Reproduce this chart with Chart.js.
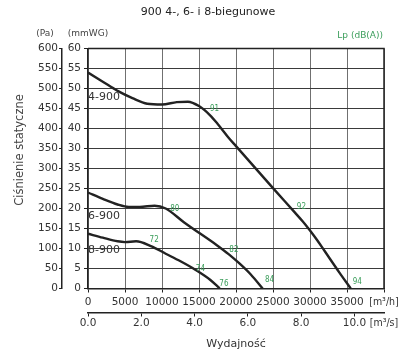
<!DOCTYPE html>
<html><head><meta charset="utf-8">
<script src="https://cdn.jsdelivr.net/npm/chart.js@4"></script>
<style>html,body{margin:0;padding:0;background:#fff}</style>
</head><body>
<canvas id="c" width="408" height="357"></canvas>
<script>
// ---- data ----
const flow4 = [0,2000,4000,6000,8000,10000,12000,13500,15000,16500,17500,19000,20000,25000,28000,29000,30000,31000,32000,34000,35500];
const pres4 = [540,517,494,476,462,460,466,467,456,433,412,377,356,251,189,168,145,120,93,39,0];
const flow6 = [0,2000,4000,5500,7000,9000,10500,13000,17500,19000,20500,22000,23600];
const pres6 = [240,224,210,204,204,207,200,165,107,86,62,35,0];
const flow8 = [0,2000,4000,5000,6500,8500,10500,12500,14500,16500,17800];
const pres8 = [137,127,118,116,118,106,87,68,47,22,0];

const paTicks = [0,50,100,150,200,250,300,350,400,450,500,550,600];
const mmwgLabels = ['0','5','10','15','20','25','35','30','40','45','50','55','60'];
const flowTicksH = [0,5000,10000,15000,20000,25000,30000,35000];
const flowTicksS = [0,2,4,6,8,10];

const curveNames = ['4-900','6-900','8-900'];
const curveNameFlow = [2150,2150,2150];
const curveNamePres = [478,182,97];

const dbText = ['91','92','94','80','82','84','72','74','76'];
const dbFlow = [17100,28840,36400,11720,19720,24530,8940,15190,18370];
const dbPres = [448,205,17,200,97,21,122,49,11];

const FONT = 'DejaVu Sans';
Chart.defaults.font.family = FONT;
Chart.defaults.color = '#333';

const pts = (xs, ys) => xs.map((x, i) => ({x, y: ys[i]}));
const lineDs = (xs, ys) => ({
  data: pts(xs, ys), borderColor: '#222', borderWidth: 2.4, pointRadius: 0,
  cubicInterpolationMode: 'monotone', fill: false, xAxisID: 'x', yAxisID: 'y'
});

const textPlugin = {
  id: 'texts',
  afterDraw(chart) {
    const c = chart.ctx, xs = chart.scales.x, ys = chart.scales.y;
    c.save();
    c.textBaseline = 'middle';
    c.fillStyle = '#222'; c.textAlign = 'center';
    c.font = '11px "' + FONT + '"';
    c.fillText('900 4-, 6- i 8-biegunowe', 208, 12);
    c.fillStyle = '#444'; c.font = '9px "' + FONT + '"';
    c.fillText('(Pa)', 45, 34);
    c.fillText('(mmWG)', 88, 34);
    c.fillStyle = '#3a9d5a'; c.textAlign = 'right';
    c.fillText('Lp (dB(A))', 383, 35.5);
    c.save();
    c.translate(20, 150); c.rotate(-Math.PI / 2);
    c.fillStyle = '#444'; c.textAlign = 'center';
    c.font = '11.5px "' + FONT + '"';
    c.fillText('Ciśnienie statyczne', 0, 0);
    c.restore();
    c.fillStyle = '#333'; c.textAlign = 'center'; c.font = '11px "' + FONT + '"';
    curveNames.forEach((t, i) => c.fillText(t, xs.getPixelForValue(curveNameFlow[i]), ys.getPixelForValue(curveNamePres[i])));
    c.fillStyle = '#3a9d5a'; c.font = '8px "DejaVu Sans Condensed"';
    dbText.forEach((t, i) => c.fillText(t, xs.getPixelForValue(dbFlow[i]), ys.getPixelForValue(dbPres[i])));
    c.restore();
  }
};

const framePlugin = {
  id: 'frame',
  afterDatasetsDraw(chart) {
    const a = chart.chartArea, c = chart.ctx;
    c.save(); c.strokeStyle = '#222'; c.lineWidth = 1.5;
    c.beginPath(); c.moveTo(a.left, a.top); c.lineTo(a.right, a.top); c.lineTo(a.right, a.bottom); c.stroke();
    c.restore();
  }
};

const tickFont = ctx => (ctx.tick && typeof ctx.tick.label === 'string' && ctx.tick.label.startsWith('['))
  ? { family: 'DejaVu Sans Condensed', size: 10.5 } : { family: FONT, size: 10.5 };

new Chart(document.getElementById('c'), {
  type: 'line',
  data: { datasets: [lineDs(flow4, pres4), lineDs(flow6, pres6), lineDs(flow8, pres8)] },
  options: {
    responsive: false, animation: false,
    layout: { padding: { left: 30, right: 24, top: 48.5, bottom: 0 } },
    plugins: { legend: { display: false }, tooltip: { enabled: false } },
    scales: {
      x: {
        type: 'linear', axis: 'x', position: 'bottom', weight: 0, min: 0, max: 40000,
        afterBuildTicks: s => { s.ticks = flowTicksH.concat([40000]).map(v => ({value: v})); },
        ticks: { autoSkip: false, maxRotation: 0, padding: 3, font: tickFont, color: '#333',
          callback: v => v === 40000 ? '[m³/h]' : String(v) },
        grid: { color: '#707070', lineWidth: 1, tickLength: 4, tickColor: '#222' },
        border: { color: '#222', width: 1.5 },
        afterFit: s => { s.height = 24; }
      },
      x2: {
        type: 'linear', axis: 'x', position: 'bottom', weight: 1, min: 0, max: 40000 / 3600,
        afterBuildTicks: s => { s.ticks = flowTicksS.concat([40000 / 3600]).map(v => ({value: v})); },
        ticks: { autoSkip: false, maxRotation: 0, padding: 0, font: tickFont, color: '#333',
          callback: v => v > 10.5 ? '[m³/s]' : v.toFixed(1) },
        grid: { drawOnChartArea: false, tickLength: 4,
          tickColor: ctx => (ctx.tick && ctx.tick.value > 10.5) ? 'rgba(0,0,0,0)' : '#222' },
        border: { color: '#222', width: 1.5 },
        title: { display: true, text: 'Wydajność', color: '#333', font: { size: 11 }, padding: { top: 0, bottom: 6 } },
        afterFit: s => { s.height = 44.5; }
      },
      y: {
        type: 'linear', axis: 'y', position: 'left', weight: 0, min: 0, max: 600,
        afterBuildTicks: s => { s.ticks = paTicks.map(v => ({value: v})); },
        ticks: { autoSkip: false, padding: 3, font: { size: 10.5 }, color: '#333',
          callback: (v) => mmwgLabels[Math.round(v / 50)] },
        grid: { color: '#3a3a3a', lineWidth: 1, tickLength: 4, tickColor: '#222' },
        border: { color: '#222', width: 1.5 },
        afterFit: s => { s.width = 26; }
      },
      yPa: {
        type: 'linear', axis: 'y', position: 'left', weight: 1, min: 0, max: 600,
        afterBuildTicks: s => { s.ticks = paTicks.map(v => ({value: v})); },
        ticks: { autoSkip: false, padding: 1, font: { size: 10.5 }, color: '#333',
          callback: v => String(v) },
        grid: { drawOnChartArea: false, tickLength: 3, tickColor: '#222' },
        border: { color: '#222', width: 1.5 },
        afterFit: s => { s.width = 32; }
      }
    }
  },
  plugins: [textPlugin, framePlugin]
});
</script>
</body></html>
